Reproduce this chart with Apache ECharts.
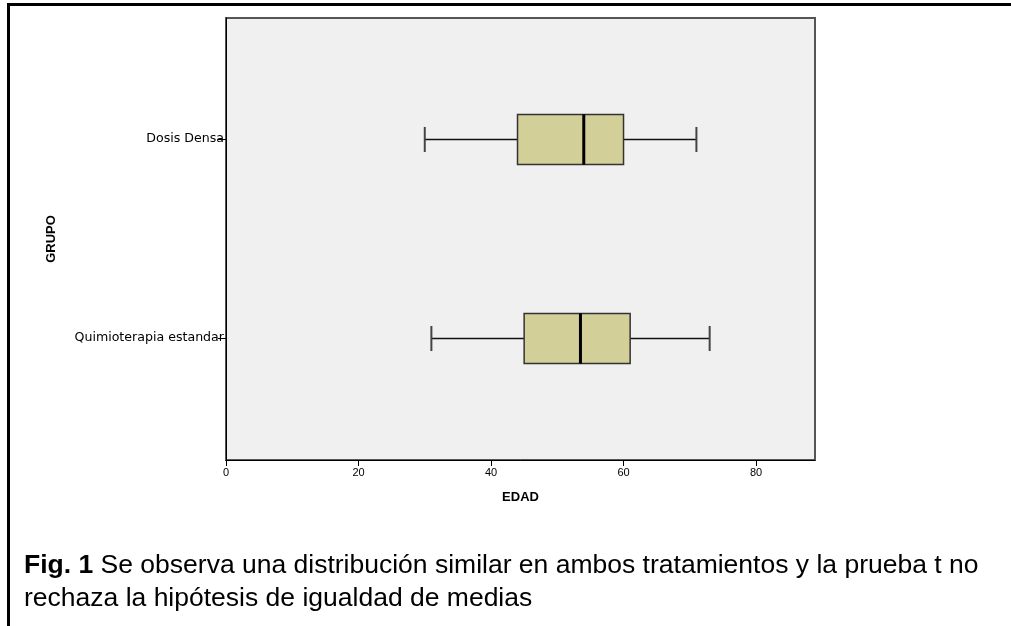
<!DOCTYPE html>
<html>
<head>
<meta charset="utf-8">
<script src="https://cdn.jsdelivr.net/npm/echarts@6/dist/echarts.min.js"></script>
<style>
  html, body { margin: 0; padding: 0; background: #fff; }
  #chart { width: 1011px; height: 626px; }
</style>
</head>
<body>
<div id="chart"></div>
<script>
// grupos (0 = abajo, 1 = arriba)
var grupos = ['Quimioterapia estandar', 'Dosis Densa'];
// resumen de cinco numeros de EDAD por grupo
var minimos = [31, 30];
var q1s = [45, 44];
var medianas = [53.5, 54];
var q3s = [61, 60];
var maximos = [73, 71];
var edadTicks = [0, 20, 40, 60, 80];

var cajas = [];
for (var i = 0; i < grupos.length; i++) {
    cajas.push([i, minimos[i], q1s[i], medianas[i], q3s[i], maximos[i]]);
}

var myChart = echarts.init(document.getElementById('chart'), null, { renderer: 'canvas' });

// dibuja una caja horizontal con bigotes
function renderCaja(params, api) {
    var g = api.value(0);
    var lo = api.coord([api.value(1), g]);
    var q1 = api.coord([api.value(2), g]);
    var md = api.coord([api.value(3), g]);
    var q3 = api.coord([api.value(4), g]);
    var hi = api.coord([api.value(5), g]);
    var unit = api.size([0, 1])[1];
    var h = unit * 0.126;
    var c = unit * 0.063;
    var y = Math.round(md[1]) + 0.5;
    var linea = { stroke: '#111', lineWidth: 1.3 };
    var tope = { stroke: '#444', lineWidth: 2 };
    return {
        type: 'group',
        children: [
            { type: 'line', shape: { x1: lo[0], y1: y, x2: q1[0], y2: y }, style: linea },
            { type: 'line', shape: { x1: q3[0], y1: y, x2: hi[0], y2: y }, style: linea },
            { type: 'line', shape: { x1: lo[0], y1: y - c, x2: lo[0], y2: y + c }, style: tope },
            { type: 'line', shape: { x1: hi[0], y1: y - c, x2: hi[0], y2: y + c }, style: tope },
            { type: 'rect', shape: { x: q1[0], y: y - h, width: q3[0] - q1[0], height: 2 * h },
              style: { fill: '#d3cf98', stroke: '#333', lineWidth: 1.5 } },
            { type: 'line', shape: { x1: md[0], y1: y - h, x2: md[0], y2: y + h },
              style: { stroke: '#000', lineWidth: 3 } }
        ]
    };
}

var option = {
    backgroundColor: '#fff',
    animation: false,
    textStyle: { fontFamily: 'Liberation Sans' },
    title: {
        left: 19,
        top: 544,
        text: '{b|Fig. 1} Se observa una distribución similar en ambos tratamientos y la prueba t no\nrechaza la hipótesis de igualdad de medias',
        textStyle: {
            fontFamily: 'Liberation Sans',
            fontSize: 26.5,
            fontWeight: 'normal',
            color: '#000',
            lineHeight: 33,
            rich: {
                b: { fontFamily: 'Liberation Sans', fontSize: 26.5, fontWeight: 'bold', color: '#000', lineHeight: 33 }
            }
        }
    },
    graphic: [
        {
            type: 'polyline',
            silent: true,
            shape: { points: [[8.5, 626], [8.5, 4.5], [1011, 4.5]] },
            style: { stroke: '#000', lineWidth: 3, fill: null }
        }
    ],
    grid: {
        left: 226,
        top: 18,
        right: 196,
        bottom: 166,
        show: true,
        backgroundColor: '#f0f0f0',
        borderColor: '#555',
        borderWidth: 2
    },
    xAxis: {
        type: 'value',
        min: 0,
        max: 88.9,
        interval: 20,
        name: 'EDAD',
        nameLocation: 'middle',
        nameGap: 31,
        nameTextStyle: { fontFamily: 'Liberation Sans', fontSize: 13, fontWeight: 'bold', color: '#000' },
        axisLine: { show: true, onZero: false, lineStyle: { color: '#000', width: 1 } },
        axisTick: { show: true, length: 6, lineStyle: { color: '#000' },
                    customValues: edadTicks },
        axisLabel: { color: '#000', fontSize: 11, margin: 7, customValues: edadTicks },
        splitLine: { show: false }
    },
    yAxis: {
        type: 'value',
        min: -0.613,
        max: 1.608,
        name: 'GRUPO',
        nameLocation: 'middle',
        nameRotate: 90,
        nameGap: 168,
        nameTextStyle: { fontFamily: 'Liberation Sans', fontSize: 13, fontWeight: 'bold', color: '#000' },
        axisLine: { show: true, onZero: false, lineStyle: { color: '#000', width: 1 } },
        axisTick: { show: true, length: 8, lineStyle: { color: '#000' }, customValues: [0, 1] },
        axisLabel: {
            color: '#000',
            fontFamily: 'DejaVu Sans',
            fontSize: 12.6,
            margin: 2,
            customValues: [0, 1],
            formatter: function (v) { return grupos[Math.round(v)] || ''; }
        },
        splitLine: { show: false }
    },
    series: [
        {
            type: 'custom',
            renderItem: renderCaja,
            encode: { x: [1, 2, 3, 4, 5], y: 0 },
            data: cajas,
            z: 5
        }
    ]
};

myChart.setOption(option);
</script>
</body>
</html>
